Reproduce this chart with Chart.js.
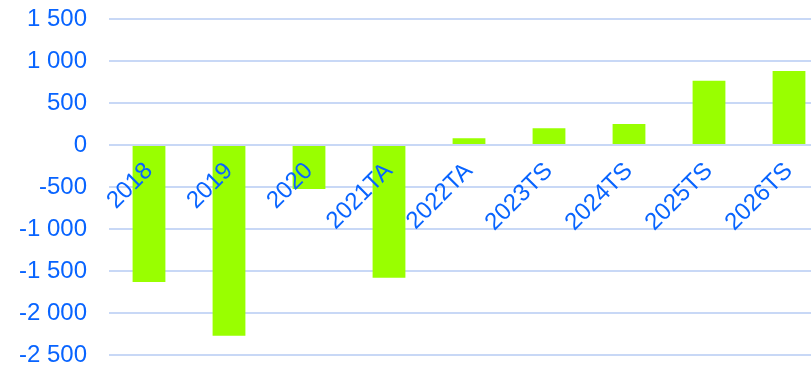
<!DOCTYPE html>
<html>
<head>
<meta charset="utf-8">
<script src="https://cdn.jsdelivr.net/npm/chart.js@4/dist/chart.umd.min.js"></script>
<style>
    html, body { margin: 0; padding: 0; background: #fff; overflow: hidden; }
    /* la zone de tracé déborde un peu à droite de la fenêtre */
    #wrap { width: 829px; height: 366px; }
</style>
</head>
<body>
<div id="wrap"><canvas id="soldeChart"></canvas></div>
<script>
// Données du graphique
const annees = ['2018', '2019', '2020', '2021TA', '2022TA', '2023TS', '2024TS', '2025TS', '2026TS'];
const soldes = [-1630, -2270, -525, -1580, 80, 200, 250, 765, 880];
const graduations = [-2500, -2000, -1500, -1000, -500, 0, 500, 1000, 1500];

const bleu = '#0864ff';
const vert = '#99ff00';
const police = { family: 'Liberation Sans, Arial', size: 24 };

// "1 500", "-2 500"
function formatNombre(v) {
    const s = String(Math.abs(v)).replace(/\B(?=(\d{3})+(?!\d))/g, ' ');
    return (v < 0 ? '-' : '') + s;
}

document.addEventListener('DOMContentLoaded', () => {
    const ctx = document.getElementById('soldeChart').getContext('2d');
    new Chart(ctx, {
        type: 'bar',
        data: {
            labels: annees,
            datasets: [{
                data: soldes,
                backgroundColor: vert,
                borderWidth: 0,
                barPercentage: 0.41,
                categoryPercentage: 1
            }]
        },
        options: {
            responsive: true,
            maintainAspectRatio: false,
            animation: false,
            layout: { padding: { left: 0, right: 0, top: 19, bottom: 11 } },
            plugins: {
                legend: { display: false },
                tooltip: { enabled: false }
            },
            scales: {
                x: {
                    // axe des catégories posé sur la ligne du zéro
                    position: { y: 0 },
                    afterFit: (axis) => {
                        axis.height = 0;
                        axis.paddingLeft = 0;
                        axis.paddingRight = 0;
                    },
                    grid: { display: false },
                    border: { display: false },
                    ticks: {
                        z: 1,
                        color: bleu,
                        minRotation: 45,
                        maxRotation: 45,
                        padding: 4,
                        font: police
                    }
                },
                y: {
                    min: graduations[0],
                    max: graduations[graduations.length - 1],
                    afterBuildTicks: (axis) => {
                        axis.ticks = graduations.map(v => ({ value: v }));
                    },
                    afterFit: (axis) => {
                        axis.width = 109;
                        axis.paddingTop = 0;
                        axis.paddingBottom = 0;
                    },
                    grid: { color: '#c8d8f6', lineWidth: 2, drawTicks: false },
                    border: { display: false },
                    ticks: {
                        color: bleu,
                        padding: 22,
                        font: police,
                        callback: (v) => formatNombre(v)
                    }
                }
            }
        }
    });
});
</script>
</body>
</html>
